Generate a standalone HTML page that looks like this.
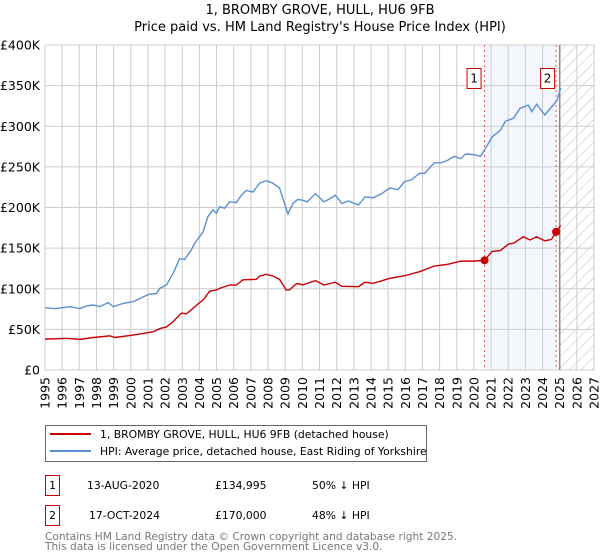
<!DOCTYPE html>
<html><head><meta charset="utf-8"><style>
body{margin:0;background:#fff;font-family:"DejaVu Sans","Liberation Sans",sans-serif;}
#wrap{position:relative;width:600px;height:560px;overflow:hidden}
</style></head><body><div id="wrap">
<svg id="chart" width="600" height="560" xmlns="http://www.w3.org/2000/svg" style="font-family:'DejaVu Sans','Liberation Sans',sans-serif">
<defs><pattern id="hatch" width="8" height="8" patternUnits="userSpaceOnUse" patternTransform="rotate(45)"><line x1="0" y1="0" x2="0" y2="8" stroke="#bbb" stroke-width="1"/></pattern></defs>
<text x="320" y="14" text-anchor="middle" font-size="13">1, BROMBY GROVE, HULL, HU6 9FB</text>
<text x="320" y="31" text-anchor="middle" font-size="13">Price paid vs. HM Land Registry's House Price Index (HPI)</text>
<g id="plot"></g>
<g>
<rect x="45.5" y="425.5" width="381" height="36" fill="#fff" stroke="#666"/>
<line x1="50" y1="434" x2="91" y2="434" stroke="#cc0000" stroke-width="2"/>
<text x="100" y="438" font-size="10.8">1, BROMBY GROVE, HULL, HU6 9FB (detached house)</text>
<line x1="50" y1="451" x2="91" y2="451" stroke="#5b8fd4" stroke-width="2"/>
<text x="100" y="455" font-size="10.8">HPI: Average price, detached house, East Riding of Yorkshire</text>
</g>
<g font-size="10.8">
<rect x="45.5" y="475.5" width="14" height="20" fill="#fff" stroke="#cc0000"/>
<text x="52.5" y="489" text-anchor="middle">1</text>
<text x="87" y="489">13-AUG-2020</text>
<text x="215" y="489">£134,995</text>
<text x="312" y="489">50% ↓ HPI</text>
<rect x="45.5" y="505.5" width="14" height="20" fill="#fff" stroke="#cc0000"/>
<text x="52.5" y="519" text-anchor="middle">2</text>
<text x="89" y="519">17-OCT-2024</text>
<text x="215" y="519">£170,000</text>
<text x="312" y="519">48% ↓ HPI</text>
</g>
<text x="45" y="540" font-size="10.6" fill="#777">Contains HM Land Registry data © Crown copyright and database right 2025.</text>
<text x="45" y="550" font-size="10.6" fill="#777">This data is licensed under the Open Government Licence v3.0.</text>
</svg></div>
<script>
const xTicks=[1995,1996,1997,1998,1999,2000,2001,2002,2003,2004,2005,2006,2007,2008,2009,2010,2011,2012,2013,2014,2015,2016,2017,2018,2019,2020,2021,2022,2023,2024,2025,2026,2027];
const yTicks=[0,50000,100000,150000,200000,250000,300000,350000,400000];
const yTickLabels=["£0","£50K","£100K","£150K","£200K","£250K","£300K","£350K","£400K"];
const hpiYears=[1995,1995.58,1996.45,1997.04,1997.42,1997.81,1998.2,1998.68,1998.98,1999.56,2000.14,2000.72,2001.11,2001.5,2001.69,2002.08,2002.47,2002.85,2003.14,2003.53,2003.73,2004.21,2004.5,2004.79,2004.99,2005.18,2005.47,2005.76,2006.15,2006.44,2006.73,2007.12,2007.51,2007.9,2008.28,2008.67,2008.96,2009.16,2009.45,2009.74,2010,2010.29,2010.77,2011.25,2011.54,2011.92,2012.31,2012.69,2013.27,2013.65,2014.13,2014.62,2015.1,2015.58,2015.96,2016.35,2016.83,2017.12,2017.69,2018.08,2018.46,2018.85,2019.23,2019.52,2020,2020.38,2020.63,2021.06,2021.54,2021.83,2022.31,2022.69,2023.17,2023.37,2023.65,2024.13,2024.62,2024.85,2025.06];
const hpiValues=[76.7,75.5,78,75.5,78.8,80,78,83,78,82,84,90,93.5,94,100.5,104.6,119,137,136,148,156,170,189,197,193,201,199,207,206,215,221,219,230,233,230,224,205,192,205,210,209,207,217,207,210,215,205,208,203,213,212,217,224,222,232,234,242,242,255,255,258,263,260,266,265,263,271,287,295,306,310,322,326,318,327,314,326,332,347];
const ppYears=[1995,1996.26,1997.04,1997.81,1998.78,1999.07,2000.14,2001.3,2001.69,2002.08,2002.47,2002.95,2003.24,2004.02,2004.21,2004.6,2004.99,2005.18,2005.76,2006.15,2006.54,2007.31,2007.51,2007.9,2008.28,2008.67,2009.06,2009.25,2009.64,2009.83,2010,2010.77,2011.25,2011.92,2012.31,2013.27,2013.65,2014.13,2015.1,2015.96,2016.83,2017.69,2018.46,2019.23,2020,2020.62,2021.06,2021.54,2022.02,2022.31,2022.88,2023.27,2023.65,2024.13,2024.52,2024.79,2025.06];
const ppValues=[38,39,37.7,40,42,40,43,47,51,53,59.5,70,69,83,86,97,98.5,100.5,104.6,104.6,111,111.6,115.7,117.7,115.7,111.6,98.5,98.5,106,106,104.6,110,104.6,108,103,102.6,108,106.7,112.8,116,121,128,130,134,134,134.995,146,147,155,156,164,160,164,159,160.7,170,178];
const saleYears=[2020.62,2024.79];
const saleValues=[134995,170000];
const saleLabels=["1","2"];

const X0=45,X1=594,Y0=370,Y1=45;
const xs=y=>X0+(y-1995)/(2027-1995)*(X1-X0);
const ys=v=>Y0-v/400000*(Y0-Y1);
const NS="http://www.w3.org/2000/svg";
const plot=document.getElementById('plot');
function mk(tag,attrs,parent){const e=document.createElementNS(NS,tag);for(const k in attrs)e.setAttribute(k,attrs[k]);(parent||plot).appendChild(e);return e;}

let r=mk('rect',{x:xs(saleYears[0]),y:Y1,width:xs(saleYears[1])-xs(saleYears[0]),height:Y0-Y1,fill:'#f3f6fd'});


r=mk('rect',{x:xs(2025),y:Y1,width:X1-xs(2025),height:Y0-Y1,fill:'url(#hatch)'});



xTicks.forEach(t=>{
  const l=mk('line',{x1:xs(t),x2:xs(t),y1:Y1,y2:Y0,stroke:'#cccccc','stroke-width':1});
  
  
  const tx=mk('text',{transform:`translate(${xs(t)+4.5},377) rotate(-90)`,'text-anchor':'end','font-size':12.5});
  tx.textContent=t;
  
  
});
yTicks.forEach((t,i)=>{
  const l=mk('line',{x1:X0,x2:X1,y1:ys(t),y2:ys(t),stroke:'#cccccc','stroke-width':1});
  
  
  const tx=mk('text',{x:40,y:ys(t)+4.5,'text-anchor':'end','font-size':12.5});
  tx.textContent=yTickLabels[i];
  
  
});
const nl=mk('line',{x1:xs(2025),x2:xs(2025),y1:Y1,y2:Y0,stroke:'#888','stroke-width':1.5});



saleYears.forEach((y,i)=>{
  const l=mk('line',{x1:xs(y),x2:xs(y),y1:Y1,y2:Y0,stroke:'#e05555','stroke-width':1,'stroke-dasharray':'2,3'});
  
  
  const b=mk('rect',{x:xs(y)-14.5+(i===0?-3:-1),y:68.5,width:14,height:20,fill:'#fff',stroke:'#cc0000'});
  
  
  const t=mk('text',{x:xs(y)-7.5+(i===0?-3:-1),y:82.5,'text-anchor':'middle','font-size':12});
  t.textContent=saleLabels[i];
  
  
});

let p=mk('polyline',{points:hpiYears.map((y,i)=>xs(y)+','+ys(hpiValues[i]*1000)).join(' '),fill:'none',stroke:'#5b8fd4','stroke-width':1.4});


p=mk('polyline',{points:ppYears.map((y,i)=>xs(y)+','+ys(ppValues[i]*1000)).join(' '),fill:'none',stroke:'#cc0000','stroke-width':1.4});


saleYears.forEach((y,i)=>{
  const c=mk('circle',{cx:xs(y),cy:ys(saleValues[i]),r:4,fill:'#cc0000'});
  
  
});
</script></body></html>
